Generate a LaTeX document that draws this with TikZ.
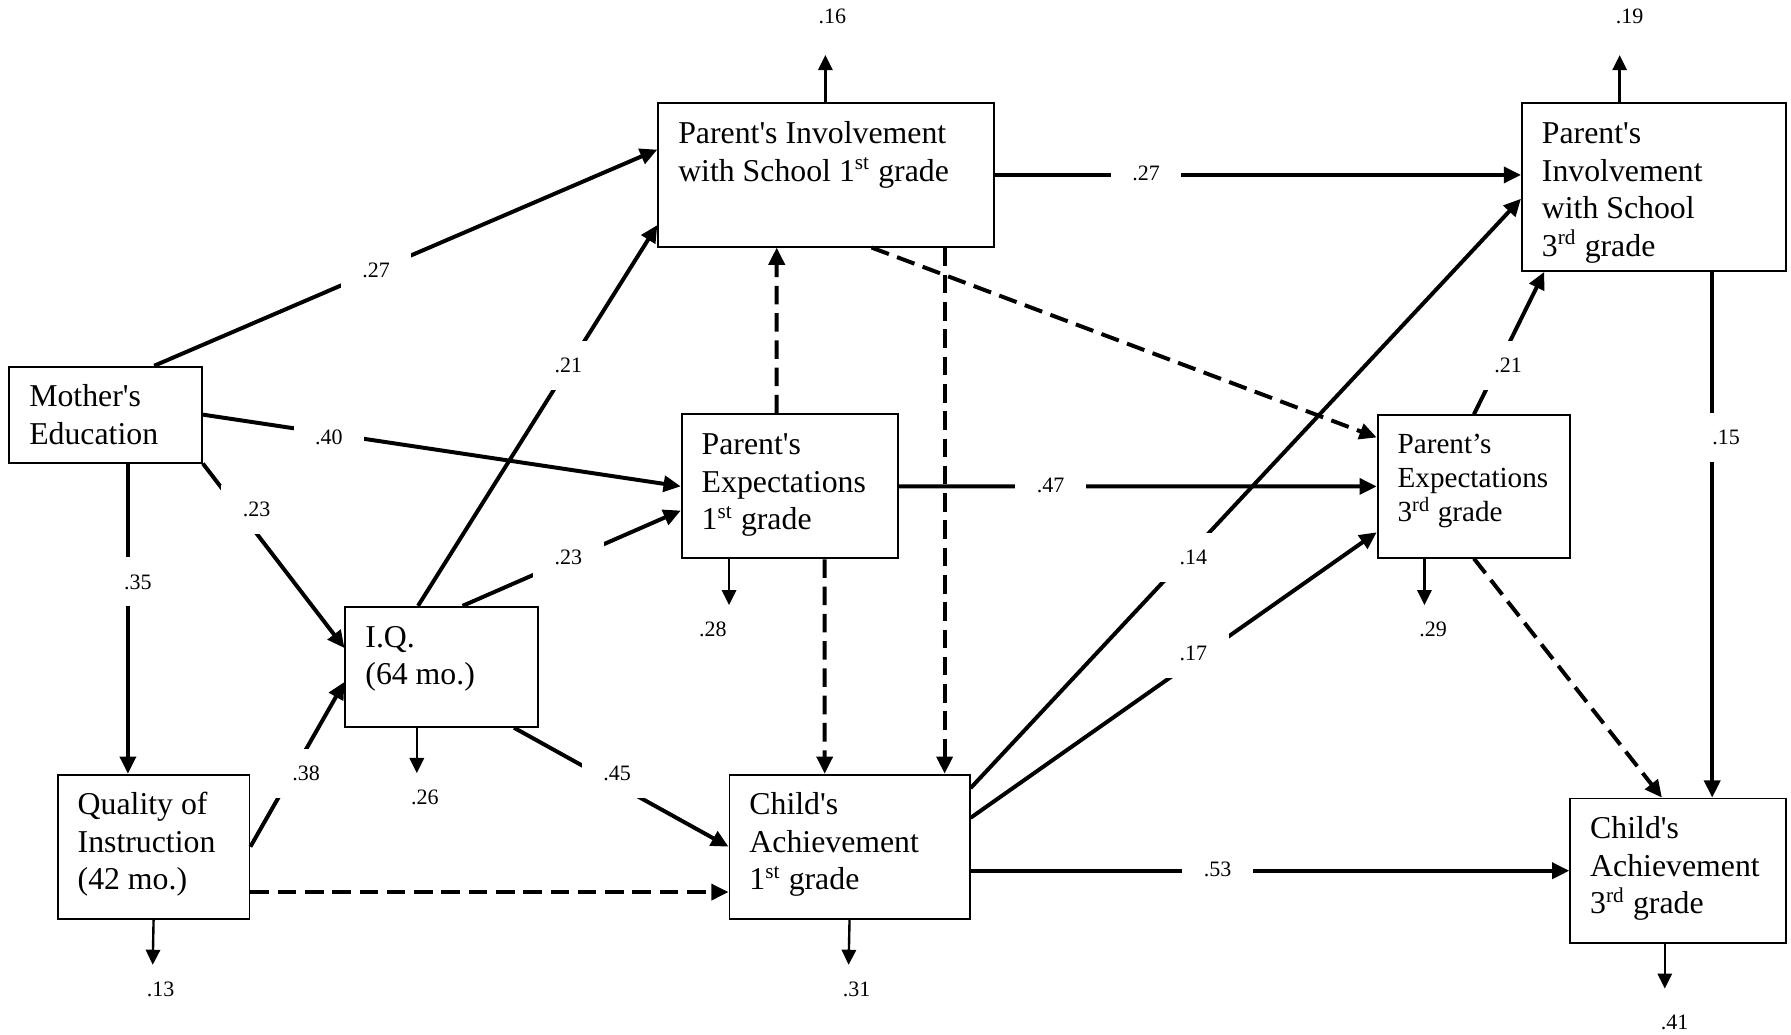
\documentclass[tikz,border=0pt]{standalone}
\usepackage{fontspec}
\setmainfont{Liberation Serif}[Ligatures=TeXOff]
\usetikzlibrary{arrows.meta}
% one drawing unit in points
\newdimen\pxu \pxu=0.4311pt
% box text: width, height (units), first baseline, lines
\newcommand{\boxtext}[4]{\parbox[c][#2\pxu][t]{#1\pxu}{\raggedright\leftskip=7.55pt\rule{0pt}{#3}#4}}
\begin{document}
\begin{tikzpicture}[x=0.4311pt, y=-0.4311pt,
  box/.style={draw, line width=0.7pt, inner sep=0pt, anchor=north west,
    font=\fontsize{12}{14.15}\selectfont},
  boxsm/.style={box, font=\fontsize{11}{12.83}\selectfont},
  lbl/.style={fill=white, inner sep=0pt, minimum width=26.7pt, minimum height=18.5pt,
    font=\fontsize{8.3}{10}\selectfont},
  elbl/.style={inner sep=0pt, font=\fontsize{8.3}{10}\selectfont},
  arr/.style={line width=1.5pt, -{Triangle[length=6.5pt,width=6pt]}},
  darr/.style={arr, dash pattern=on 7pt off 3.3pt},
  earr/.style={line width=0.9pt, -{Triangle[length=5.7pt,width=5.4pt]}}]
\useasboundingbox (0,0) rectangle (1568,906);

% variables
\node[box] (mother) at (7.3,320.2) {\boxtext{168.7}{84}{15.2pt}{Mother's\\Education}};
\node[box] (qual) at (49.7,677.4) {\boxtext{167.9}{126.1}{15.2pt}{Quality of\\Instruction\\(42 mo.)}};
\node[box] (iq) at (301.6,530.4) {\boxtext{168.3}{105.1}{15.2pt}{I.Q.\\(64 mo.)}};
\node[box] (pinv1) at (575.5,89.6) {\boxtext{294.2}{125.5}{15.2pt}{Parent's Involvement\\with School 1\textsuperscript{st} grade}};
\node[box] (pexp1) at (596,362) {\boxtext{189}{126}{15.2pt}{Parent's\\Expectations\\1\textsuperscript{st} grade}};
\node[box] (ach1) at (637.8,677.4) {\boxtext{210.3}{126.1}{15.2pt}{Child's\\Achievement\\1\textsuperscript{st} grade}};
\node[box] (pinv3) at (1331.6,89.6) {\boxtext{231.4}{146.8}{15.2pt}{Parent's\\Involvement\\with School\\3\textsuperscript{rd} grade}};
\node[boxsm] (pexp3) at (1205.3,362.7) {\boxtext{168.6}{124.7}{14.5pt}{Parent’s\\Expectations\\3\textsuperscript{rd} grade}};
\node[box] (ach3) at (1373.9,698.3) {\boxtext{188.7}{126.4}{15.2pt}{Child's\\Achievement\\3\textsuperscript{rd} grade}};

% residual arrow ends
\coordinate (r16) at (722.6,48.2);
\coordinate (r19) at (1418,48.2);
\coordinate (r28) at (638.3,529.8);
\coordinate (r26) at (364.9,676.8);
\coordinate (r13) at (133.7,844.7);
\coordinate (r31) at (742.95,844.7);
\coordinate (r29) at (1247.1,529.8);
\coordinate (r41) at (1457.5,865.6);

% paths
\draw[arr] ([shift={(127.7,0)}]mother.north west) -- ([shift={(0,41.4)}]pinv1.north west);
\draw[arr] (mother.east) -- (pexp1.west);
\draw[arr] (mother.south east) -- ([shift={(0,37)}]iq.north west);
\draw[arr] ([shift={(104.7,0)}]mother.south west) -- ([shift={(62.3,0)}]qual.north west);
\draw[arr] ([shift={(64.4,0)}]iq.north west) -- ([shift={(0,107.4)}]pinv1.north west);
\draw[arr] ([shift={(103.4,0)}]iq.north west) -- ([shift={(0,85)}]pexp1.north west);
\draw[arr] ([shift={(148.4,0)}]iq.south west) -- (ach1.west);
\draw[arr] (qual.east) -- ([shift={(0,66.6)}]iq.north west);
\draw[darr] ([shift={(0,103.6)}]qual.north east) -- ([shift={(0,103.6)}]ach1.north west);
\draw[arr] (pinv1.east) -- (pinv3.west |- pinv1.east);
\draw[darr] ([shift={(187.5,0)}]pinv1.south west) -- ([shift={(0,20.3)}]pexp3.north west);
\draw[darr] ([shift={(251.5,0)}]pinv1.south west) -- ([shift={(189.2,0)}]ach1.north west);
\draw[darr] ([shift={(84,0)}]pexp1.north west) -- ([shift={(104.5,0)}]pinv1.south west);
\draw[arr] (pexp1.east) -- (pexp3.west);
\draw[darr] ([shift={(126,0)}]pexp1.south west) -- ([shift={(84.2,0)}]ach1.north west);
\draw[arr] ([shift={(0,12.6)}]ach1.north east) -- ([shift={(0,84.4)}]pinv3.north west);
\draw[arr] ([shift={(0,38.6)}]ach1.north east) -- ([shift={(0,103.3)}]pexp3.north west);
\draw[arr] (ach1.east |- ach3.west) -- (ach3.west);
\draw[arr] (pexp3.north) -- ([shift={(20.4,0)}]pinv3.south west);
\draw[darr] (pexp3.south) -- ([shift={(81.1,0)}]ach3.north west);
\draw[arr] ([shift={(167.4,0)}]pinv3.south west) -- ([shift={(125.1,0)}]ach3.north west);

% residuals
\draw[earr] (pinv1.north -| r16) -- (r16);
\draw[earr] (pinv3.north -| r19) -- (r19);
\draw[earr] (pexp1.south -| r28) -- (r28);
\draw[earr] (iq.south -| r26) -- (r26);
\draw[earr] (qual.south) -- (r13);
\draw[earr] (ach1.south) -- (r31);
\draw[earr] (pexp3.south -| r29) -- (r29);
\draw[earr] (ach3.south -| r41) -- (r41);

% path coefficients
\node[lbl] (c1) at (329.2,236.4) {.27};
\node[lbl] (c2) at (497.6,320.2) {.21};
\node[lbl] (c3) at (288,382.9) {.40};
\node[lbl] (c4) at (224.7,446.2) {.23};
\node[lbl] (c5) at (120.6,509.5) {.35};
\node[lbl] (c6) at (497.6,487.9) {.23};
\node[lbl] (c7) at (267.9,676.8) {.38};
\node[lbl] (c8) at (540.3,676.8) {.45};
\node[lbl] (c9) at (1003.3,151.8) {.27};
\node[lbl] (c10) at (919.8,425.2) {.47};
\node[lbl] (c11) at (1044.8,487.9) {.14};
\node[lbl] (c12) at (1044.8,572.2) {.17};
\node[lbl] (c13) at (1066,761.3) {.53};
\node[lbl] (c14) at (1320.3,320.2) {.21};
\node[lbl] (c15) at (1511.1,382.9) {.15};

% residual values
\node[elbl] (v16) at (728.8,14.6) {.16};
\node[elbl] (v19) at (1426.6,14.6) {.19};
\node[elbl] (v28) at (624.2,551.3) {.28};
\node[elbl] (v26) at (371.9,698.3) {.26};
\node[elbl] (v13) at (140.7,866.6) {.13};
\node[elbl] (v31) at (749.9,866.6) {.31};
\node[elbl] (v29) at (1254.6,551.3) {.29};
\node[elbl] (v41) at (1466,895) {.41};
\end{tikzpicture}
\end{document}
